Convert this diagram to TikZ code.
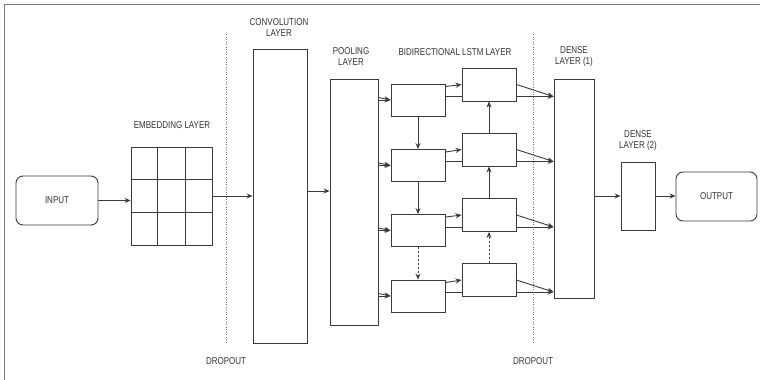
\documentclass[tikz,border=0pt]{standalone}
\usepackage{fontspec}
\setmainfont{Liberation Sans}
\newfontfamily\lblfont[FakeStretch=0.8]{Liberation Sans}
\usetikzlibrary{arrows.meta,positioning,calc,backgrounds}
\definecolor{linegray}{HTML}{3A3A3A}
\definecolor{textgray}{HTML}{333333}
\definecolor{framegray}{HTML}{7A7A7A}

\begin{document}
\begin{tikzpicture}[x=1pt, y=-1pt,
  box/.style={draw=linegray, fill=white, line width=0.9pt, inner sep=0pt},
  lbl/.style={text=textgray, font=\lblfont\fontsize{10}{11}\selectfont, align=center, inner sep=0pt},
  arr/.style={draw=linegray, line width=0.9pt, -{Stealth[length=6pt,width=5pt]}},
  dropline/.style={draw=linegray!70, line width=0.8pt, dash pattern=on 1pt off 1.5pt}]
  \useasboundingbox (0,0) rectangle (760,380);
  \draw[framegray, line width=0.8pt] (4,380) -- (4,4) -- (760,4);

  % dropout lines
  \coordinate (dropA top) at (226,34);
  \coordinate (dropA bot) at (226,343);
  \coordinate (dropB top) at (533,34);
  \coordinate (dropB bot) at (533,343);
  \draw[dropline] (dropA top) -- (dropA bot);
  \draw[dropline] (dropB top) -- (dropB bot);
  \node[lbl, below=14pt] (dropA) at (dropA bot) {DROPOUT};
  \node[lbl, below=14pt] (dropB) at (dropB bot) {DROPOUT};

  % layers
  \node[box, rounded corners=7pt, minimum width=82pt, minimum height=49pt] (input) at (57,200.5) {};
  \node[lbl] at (input) {INPUT};
  \node[box, minimum width=81pt, minimum height=98pt] (emb) at (171.5,196) {};
  \foreach \f in {1/3,2/3} {
    \draw[linegray, line width=0.9pt] ($(emb.north west)!\f!(emb.north east)$) -- ($(emb.south west)!\f!(emb.south east)$);
    \draw[linegray, line width=0.9pt] ($(emb.north west)!\f!(emb.south west)$) -- ($(emb.north east)!\f!(emb.south east)$);
  }
  \node[box, minimum width=54pt, minimum height=294pt] (conv) at (280,196) {};
  \node[box, minimum width=48pt, minimum height=246pt] (pool) at (354,202) {};
  \node[box, minimum width=40pt, minimum height=219pt] (dense1) at (574,188.5) {};
  \node[box, minimum width=34pt, minimum height=68pt] (dense2) at (638,196) {};
  \node[box, rounded corners=7pt, minimum width=81pt, minimum height=49pt] (output) at (716.5,196.5) {};
  \node[lbl] at (output) {OUTPUT};

  % lstm cells
  \foreach \i/\y in {1/100,2/165.5,3/230.5,4/296}
    \node[box, minimum width=54pt, minimum height=32pt] (fw\i) at (418,\y) {};
  \foreach \i/\y in {1/84.5,2/149.5,3/215,4/280}
    \node[box, minimum width=54pt, minimum height=33pt] (bw\i) at (489,\y) {};

  % labels
  \node[lbl] at (172,125) {EMBEDDING LAYER};
  \node[lbl] at (279,28) {CONVOLUTION\\LAYER};
  \node[lbl] at (351,56.5) {POOLING\\LAYER};
  \node[lbl] at (455,52) {BIDIRECTIONAL LSTM LAYER};
  \node[lbl] at (574,56.5) {DENSE\\LAYER (1)};
  \node[lbl] at (638,140.5) {DENSE\\LAYER (2)};

  % main flow
  \draw[arr] (input.east) -- (emb.west |- input.east);
  \draw[arr] (emb.east) -- (conv.west |- emb.east);
  \draw[arr] ($(conv.east)+(0,-5)$) -- ($(pool.west |- conv.east)+(0,-5)$);
  \draw[arr] (dense1.east |- dense2.west) -- (dense2.west);
  \draw[arr] (dense2.east) -- (output.west |- dense2.east);

  % lstm connections
  \foreach \i in {1,...,4} {
    \draw[arr] ($(pool.east |- fw\i)+(0,-2.5)$) -- (fw\i.west);
    \draw[arr] (pool.east |- fw\i) -- (fw\i.west);
    \draw[arr] ($(fw\i.north east)+(0,3)$) -- (bw\i.west);
    \draw[arr] (bw\i.east) -- ($(dense1.west |- bw\i)+(0,12)$);
  }
  \begin{scope}[on background layer]
    \foreach \i in {1,...,4}
      \draw[arr] ($(fw\i.east |- bw\i)+(0,12)$) -- ($(dense1.west |- bw\i)+(0,12)$);
  \end{scope}
  \draw[arr] (fw1.south) -- (fw2.north);
  \draw[arr] (fw2.south) -- (fw3.north);
  \draw[arr, dash pattern=on 2pt off 2pt] (fw3.south) -- (fw4.north);
  \draw[arr, dash pattern=on 2pt off 2pt] (bw4.north) -- (bw3.south);
  \draw[arr] (bw3.north) -- (bw2.south);
  \draw[arr] (bw2.north) -- (bw1.south);
\end{tikzpicture}
\end{document}
